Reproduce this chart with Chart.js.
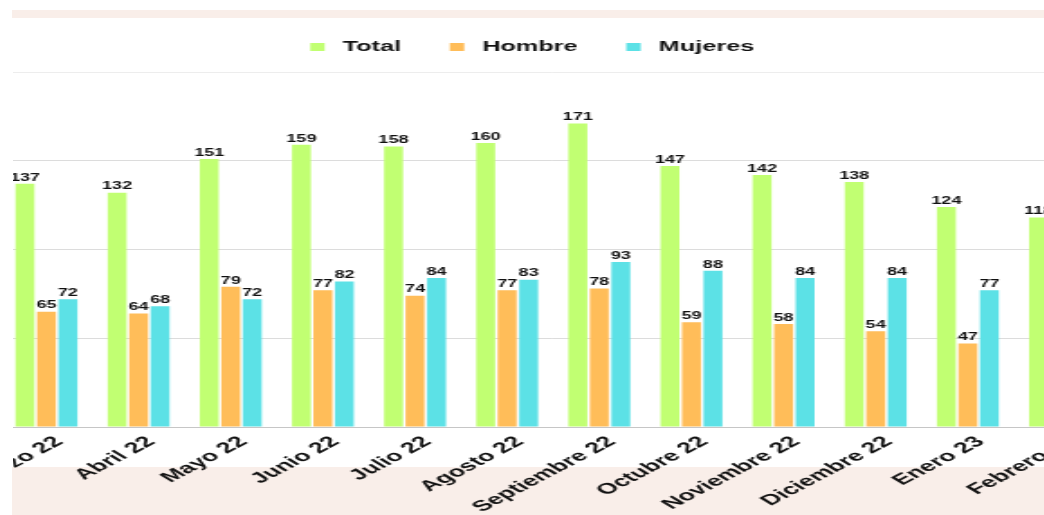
<!DOCTYPE html>
<html><head><meta charset="utf-8">
<script src="https://cdn.jsdelivr.net/npm/chart.js@4.4.1/dist/chart.umd.min.js"></script>
<style>
html,body{margin:0;padding:0;background:#fff;width:1044px;height:515px;overflow:hidden;}
#bandTop{position:absolute;left:12px;top:10px;width:1032px;height:8px;background:#f9eee9;}
#bandBottom{position:absolute;left:12px;top:467px;width:1032px;height:48px;background:#f9eee9;}
#clip{position:absolute;left:13px;top:0;width:1031px;height:515px;overflow:hidden;}
#wrap{position:absolute;top:0;left:0;height:515px;transform-origin:0 0;}
</style></head><body>
<div id="bandTop"></div><div id="bandBottom"></div>
<div id="clip"><div id="wrap"><canvas id="c"></canvas></div></div>
<script>
// ---- data ----
const categories = ['Marzo 22','Abril 22','Mayo 22','Junio 22','Julio 22','Agosto 22','Septiembre 22','Octubre 22','Noviembre 22','Diciembre 22','Enero 23','Febrero 23'];
const totalValues   = [137,132,151,159,158,160,171,147,142,138,124,118];
const hombreValues  = [65,64,79,77,74,77,78,59,58,54,47,45];
const mujeresValues = [72,68,72,82,84,83,93,88,84,84,77,73];
const seriesNames = ['Total','Hombre','Mujeres'];
const yMin = 0, yMax = 200, yStep = 50;

// ---- style / layout ----
const colors = ['#C1FF72','#FFBD59','#5CE1E6'];
const FONT = "'Liberation Sans', Arial, Helvetica, sans-serif";
const STRETCH = 1.8;       // horizontal stretch of the picture
const CLIP_LEFT = 13;
const FIRST_CENTER = 46, STEP = 92;
const TARGET_TOP = 72, TARGET_BOTTOM = 427;
const LEGEND_GAP = 8;
const H = 515;

function swatch(color){
  const c = document.createElement('canvas');
  c.width = 15; c.height = 8;
  const g = c.getContext('2d');
  g.fillStyle = color; g.fillRect(4,0,8,8);
  return c;
}
const swatches = colors.map(swatch);

const legendGap = {
  id:'legendGap',
  beforeInit(chart){
    const orig = chart.legend.fit;
    chart.legend.fit = function(){ orig.call(this); this.height += LEGEND_GAP; };
  }
};

const valueLabels = {
  id:'valueLabels',
  afterDatasetsDraw(chart){
    const ctx = chart.ctx;
    ctx.save();
    ctx.font = 'bold 10px ' + FONT;
    ctx.fillStyle = '#111';
    ctx.textAlign = 'center';
    ctx.textBaseline = 'bottom';
    chart.data.datasets.forEach((ds,i)=>{
      const meta = chart.getDatasetMeta(i);
      meta.data.forEach((el,j)=>{
        ctx.fillText(String(ds.data[j]), el.x, el.y - 1);
      });
    });
    ctx.restore();
  }
};

const canvas = document.getElementById('c');
const chart = new Chart(canvas, {
  type:'bar',
  data:{
    labels: categories,
    datasets:[
      {label: seriesNames[0], data: totalValues, backgroundColor: colors[0]},
      {label: seriesNames[1], data: hombreValues, backgroundColor: colors[1]},
      {label: seriesNames[2], data: mujeresValues, backgroundColor: colors[2]}
    ]
  },
  options:{
    responsive:false,
    maintainAspectRatio:false,
    animation:false,
    devicePixelRatio:1,
    layout:{padding:{top:20,bottom:0,left:0,right:0}},
    datasets:{bar:{categoryPercentage:0.7, barPercentage:0.88, borderWidth:0}},
    plugins:{
      tooltip:{enabled:false},
      legend:{
        position:'top',
        labels:{
          font:{family:FONT, size:14, weight:'bold'},
          color:'#111',
          usePointStyle:true,
          pointStyleWidth:15,
          boxHeight:8,
          padding:23,
          generateLabels(ch){
            const items = Chart.defaults.plugins.legend.labels.generateLabels(ch);
            items.forEach((it,i)=>{ it.pointStyle = swatches[i]; });
            return items;
          }
        }
      }
    },
    scales:{
      x:{
        grid:{display:false, drawTicks:false},
        border:{display:true, color:'#c6c6c6', width:1},
        ticks:{autoSkip:false, minRotation:43, maxRotation:43, padding:6, labelOffset:7,
               color:'#111', font:{family:FONT, size:15, weight:'bold'}}
      },
      y:{
        min:yMin, max:yMax,
        ticks:{display:false, stepSize:yStep},
        border:{display:false},
        grid:{drawTicks:false, color:(c)=> c.tick && c.tick.value === yMax ? '#ededed' : '#dcdcdc', lineWidth:1}
      }
    }
  },
  plugins:[legendGap, valueLabels]
});

let W = 700, padTop = 20, padBottom = 0;
for (let it = 0; it < 5; it++){
  chart.options.layout.padding = {top:padTop, bottom:padBottom, left:0, right:0};
  chart.resize(W, H);
  chart.update();
  const ca = chart.chartArea;
  padTop += TARGET_TOP - ca.top;
  padBottom += ca.bottom - TARGET_BOTTOM;
  W += (categories.length * STEP / STRETCH) - (ca.right - ca.left);
}
chart.options.layout.padding = {top:padTop, bottom:padBottom, left:0, right:0};
chart.resize(W, H);
chart.update();

const p0 = chart.scales.x.getPixelForValue(0);
const offsetX = FIRST_CENTER - STRETCH * p0;
const wrap = document.getElementById('wrap');
wrap.style.left = (offsetX - CLIP_LEFT) + 'px';
wrap.style.transform = 'scaleX(' + STRETCH + ')';
</script>
</body></html>
